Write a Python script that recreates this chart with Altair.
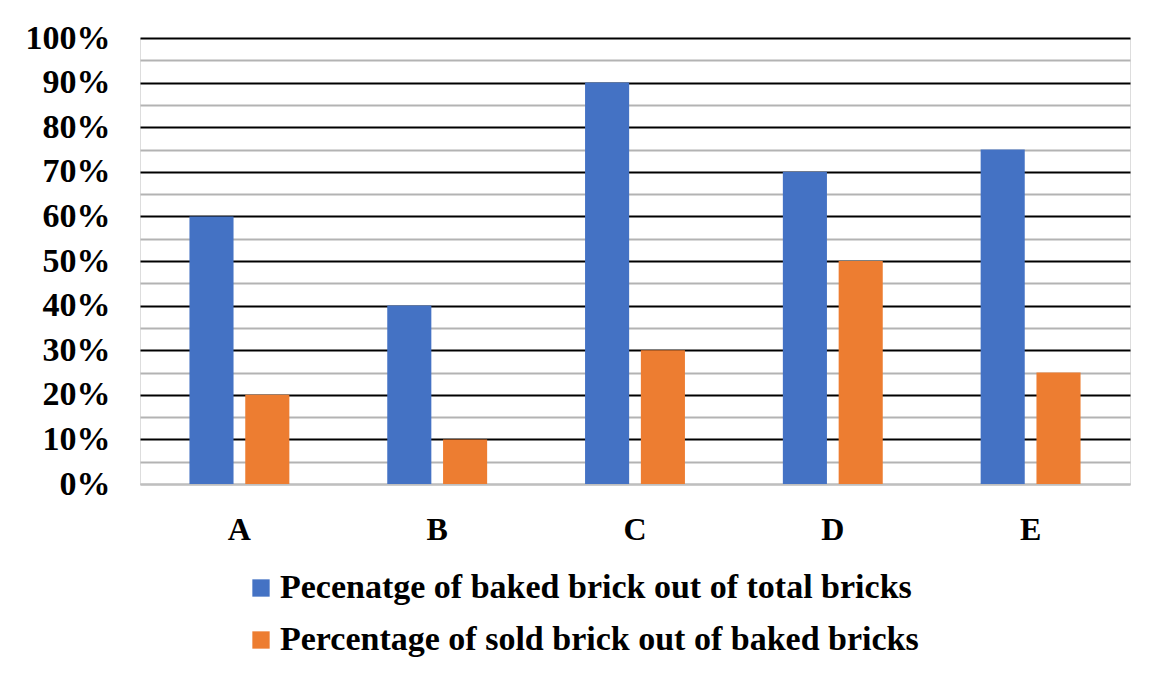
import altair as alt
import pandas as pd

categories = ["A", "B", "C", "D", "E"]
baked = [0.60, 0.40, 0.90, 0.70, 0.75]
sold = [0.20, 0.10, 0.30, 0.50, 0.25]
series = ["Pecenatge of baked brick out of total bricks",
          "Percentage of sold brick out of baked bricks"]
colors = ["#4472C4", "#ED7D31"]
y_ticks = [i * 0.05 for i in range(21)]

rows = []
for c, b, s in zip(categories, baked, sold):
    rows.append({"cat": c, "series": series[0], "value": b})
    rows.append({"cat": c, "series": series[1], "value": s})
df = pd.DataFrame(rows)

FONT = "Liberation Serif"

chart = alt.Chart(df).mark_bar().encode(
    x=alt.X("cat:N", sort=categories, title=None,
            scale=alt.Scale(paddingInner=0.495, paddingOuter=0.25),
            axis=alt.Axis(labelAngle=0, ticks=False, labelPadding=30,
                          domainColor="#bfbfbf", domainWidth=2,
                          labelFontSize=32, labelFont=FONT, labelFontWeight="bold",
                          labelColor="black")),
    xOffset=alt.XOffset("series:N", sort=series,
                        scale=alt.Scale(paddingInner=0.21, paddingOuter=0)),
    y=alt.Y("value:Q", title=None,
            scale=alt.Scale(domain=[0, 1], nice=False),
            axis=alt.Axis(values=y_ticks, format=".0%",
                          labelExpr="round(datum.value*100) % 10 == 0 ? datum.label : ''",
                          ticks=False, domain=False, labelPadding=30,
                          labelFontSize=34, labelFont=FONT, labelFontWeight="bold",
                          labelColor="black",
                          gridColor={"condition": {"test": "datum.value > 0.001 && round(datum.value*100) % 10 == 0", "value": "black"}, "value": "#b3b3b3"},
                          gridWidth=2, gridOpacity=1)),
    color=alt.Color("series:N", sort=series,
                    scale=alt.Scale(domain=series, range=colors),
                    legend=alt.Legend(title=None, orient="none", legendX=104, legendY=533,
                                      direction="vertical", symbolType="square",
                                      symbolSize=300, symbolStrokeWidth=0,
                                      labelFontSize=34, labelFont=FONT, labelFontWeight="bold",
                                      labelColor="black", rowPadding=18, labelOffset=2,
                                      labelLimit=1000)),
).properties(
    width=990, height=446,
    padding={"left": 132, "top": 30, "right": 12, "bottom": 180},
    autosize=alt.AutoSizeParams(type="none"),
).configure_view(stroke=None).configure(background="white")

chart.save("out.html", embed_options={"renderer": "svg", "actions": False})
